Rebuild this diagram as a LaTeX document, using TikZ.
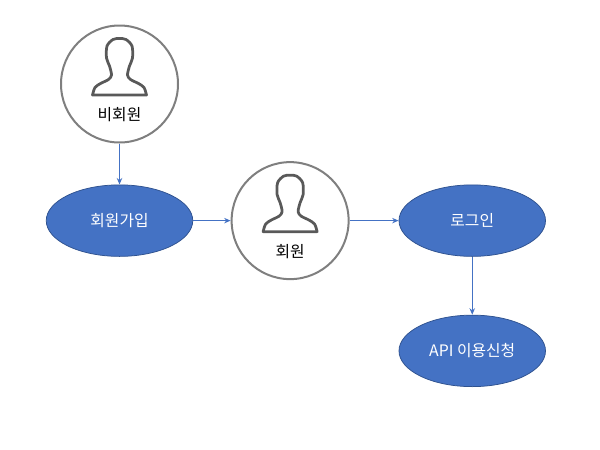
\documentclass[tikz,border=0pt]{standalone}
\usepackage{fontspec}
\setmainfont{Noto Sans CJK KR}
\usetikzlibrary{arrows.meta,positioning,shapes}
\definecolor{usrblue}{HTML}{4472C4}
\definecolor{usredge}{HTML}{2F528F}
\definecolor{usrgray}{HTML}{7F7F7F}
\definecolor{usricon}{HTML}{595959}
\begin{document}
\begin{tikzpicture}[>={Stealth[length=0.13cm,width=0.11cm]},node distance=0.8cm,
    usr/.style={circle,draw=usrgray,line width=0.04cm,minimum size=2.34cm,inner sep=0pt},
    act/.style={ellipse,draw=usredge,line width=0.015cm,fill=usrblue,text=white,
      font=\fontsize{9pt}{11pt}\selectfont,minimum width=2.93cm,minimum height=1.43cm,inner sep=0pt},
    usrlabel/.style={font=\fontsize{9pt}{11pt}\selectfont,text=black,yshift=-0.62cm},
    link/.style={->,draw=usrblue,line width=0.02cm},
    pics/personicon/.style={code={
      \draw[usricon,line width=0.055cm,line join=round] plot[smooth,tension=0.5] coordinates {
        (-0.54,-0.22) (-0.49,-0.07) (-0.38,0.01) (-0.22,0.09) (-0.16,0.18) (-0.2,0.36) (-0.26,0.52)
        (-0.25,0.76) (-0.13,0.89) (0,0.91) (0.13,0.89) (0.25,0.76) (0.26,0.52) (0.2,0.36) (0.16,0.18)
        (0.22,0.09) (0.38,0.01) (0.49,-0.07) (0.54,-0.22)} -- cycle;
    }}]
\path[use as bounding box] (0,0) rectangle (12,-9);
\node[usr] (guest) at (2.39,-1.68) {};
\node[act,below=0.82cm of guest] (signup) {회원가입};
\node[usr,right=0.75cm of signup] (member) {};
\node[act,right=0.98cm of member] (login) {로그인};
\node[act,below=1.16cm of login] (apply) {API 이용신청};
\node[usrlabel] (guesttext) at (guest) {비회원};
\node[usrlabel] (membertext) at (member) {회원};
\pic at (guest) {personicon};
\pic at (member) {personicon};
\draw[link] (guest) -- (signup);
\draw[link] (signup) -- (member);
\draw[link] (member) -- (login);
\draw[link] (login) -- (apply);
\end{tikzpicture}
\end{document}
